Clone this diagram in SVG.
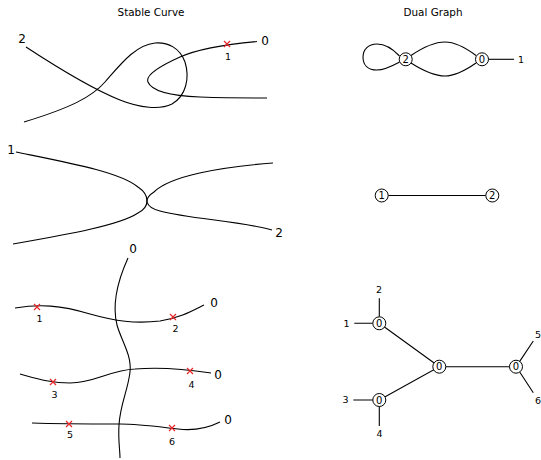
<svg xmlns="http://www.w3.org/2000/svg" width="541" height="460" viewBox="0 0 541 460">
  <style>
    .curve { fill: none; stroke: #000; stroke-width: 1.1; }
    .edge { fill: none; stroke: #000; stroke-width: 1.1; }
    .mark { stroke: #e8262a; stroke-width: 1.2; }
    .node circle { fill: #fff; stroke: #000; stroke-width: 1; }
    text { font-family: "DejaVu Sans", "Liberation Sans", sans-serif; fill: #000; text-anchor: middle; }
    .title { font-size: 10.4px; }
    .big { font-size: 12px; }
    .small { font-size: 9.5px; }
    .nlab { font-size: 10px; }
  </style>
  <defs>
    <path id="x" class="mark" d="M-3,-3 L3,3 M-3,3 L3,-3"/>
  </defs>
  <rect width="541" height="460" fill="#fff"/>

  <text class="title" x="151" y="16">Stable Curve</text>
  <text class="title" x="433" y="16">Dual Graph</text>

  <!-- Stable curve 1: nodal component of genus 2 meeting a rational tail -->
  <g id="curve-top">
    <path class="curve" d="M26,47 C55,66 90,88 120,100 C140,108 160,110 172,104 C186,96 190,78 185,62 C180,48 168,42 155,43 C135,45 120,65 105,82 C92,97 70,108 24,122"/>
    <path class="curve" d="M257,41.5 C235,43.5 200,48 180,57 C160,66 145,75 148,82 C152,92 175,96 200,97 C230,98 255,98 267,98"/>
    <use href="#x" x="227" y="44"/>
    <text class="big" x="22" y="43">2</text>
    <text class="big" x="265" y="45">0</text>
    <text class="small" x="228" y="60">1</text>
  </g>

  <!-- Stable curve 2: two components meeting at one node -->
  <g id="curve-mid">
    <path class="curve" d="M16,152 C70,163 120,172 138,187 C150,195 150,207 138,213 C120,225 70,234 13,244"/>
    <path class="curve" d="M154,192 C143,199 145,207 160,211 C190,219 240,221 272,230"/>
    <path class="curve" d="M273,163 C220,167 170,176 154,192"/>
    <text class="big" x="11" y="154">1</text>
    <text class="big" x="279" y="237">2</text>
  </g>

  <!-- Stable curve 3: a rational spine with three rational branches -->
  <g id="curve-bottom">
    <path class="curve" d="M128,258 C118,280 112,305 117,325 C121,340 132,355 130,372 C128,390 120,405 119,425 C118,440 120,450 120,458"/>
    <path class="curve" d="M15,308 C40,304 60,305 90,314 C115,321 135,324 160,321 C180,318 192,311 204,305"/>
    <path class="curve" d="M20,374 C35,378 50,383 70,383 C95,383 110,370 135,369 C160,367 185,369 211,373"/>
    <path class="curve" d="M32,423 C60,424 90,424 120,424 C140,424 160,427 178,429 C195,431 208,428 220,422"/>
    <use href="#x" x="37" y="307"/>
    <use href="#x" x="173" y="317"/>
    <use href="#x" x="53" y="382"/>
    <use href="#x" x="190" y="371"/>
    <use href="#x" x="69" y="424"/>
    <use href="#x" x="172" y="428"/>
    <text class="big" x="133" y="253">0</text>
    <text class="big" x="214" y="307">0</text>
    <text class="big" x="218" y="379">0</text>
    <text class="big" x="228" y="424">0</text>
    <text class="small" x="39.5" y="322">1</text>
    <text class="small" x="175.5" y="332">2</text>
    <text class="small" x="54.5" y="398">3</text>
    <text class="small" x="191.5" y="388">4</text>
    <text class="small" x="70" y="438">5</text>
    <text class="small" x="172" y="445">6</text>
  </g>

  <!-- Dual graph edges and legs -->
  <g id="edges">
    <path class="edge" d="M399.5,56 C392,48 385,44 377,44 C368,44 363,50 363,57 C363,65 368,70 377,70 C385,70 392,66 399.5,62"/>
    <path class="edge" d="M411,55.5 C422,48 434,42 445,42 C456,42 466,48 476,55.5"/>
    <path class="edge" d="M411,63 C422,70 434,76 445,76 C456,76 466,70 476,63"/>
    <path class="edge" d="M488.5,59.3 L514,59.3"/>
    <path class="edge" d="M388.2,195.5 L485.8,195.5"/>
    <path class="edge" d="M379.3,323.3 L439.3,366.7 L379.3,400 M439.3,366.7 L516,366.7"/>
    <path class="edge" d="M379.3,316.8 L379.3,298.3 M372.8,323.3 L354.3,323.3"/>
    <path class="edge" d="M372.8,400 L353.3,400 M379.3,406.5 L379.3,426"/>
    <path class="edge" d="M519.7,361.4 L533.3,341 M519.7,372 L533.3,392.7"/>
    <text class="small" x="521" y="63">1</text>
    <text class="small" x="379" y="293">2</text>
    <text class="small" x="346.5" y="327">1</text>
    <text class="small" x="345.5" y="403">3</text>
    <text class="small" x="379.5" y="437">4</text>
    <text class="small" x="538" y="338">5</text>
    <text class="small" x="538" y="404">6</text>
  </g>

  <g id="g1-n2" class="node"><circle cx="405.7" cy="59.3" r="6.5"/><text class="nlab" x="405.7" y="62.9">2</text></g>
  <g id="g1-n0" class="node"><circle cx="482" cy="59.3" r="6.5"/><text class="nlab" x="482" y="62.9">0</text></g>
  <g id="g2-n1" class="node"><circle cx="381.7" cy="195.5" r="6.5"/><text class="nlab" x="381.7" y="199.1">1</text></g>
  <g id="g2-n2" class="node"><circle cx="492.3" cy="195.5" r="6.5"/><text class="nlab" x="492.3" y="199.1">2</text></g>
  <g id="g3-a" class="node"><circle cx="379.3" cy="323.3" r="6.5"/><text class="nlab" x="379.3" y="326.9">0</text></g>
  <g id="g3-c" class="node"><circle cx="439.3" cy="366.7" r="6.5"/><text class="nlab" x="439.3" y="370.3">0</text></g>
  <g id="g3-b" class="node"><circle cx="379.3" cy="400" r="6.5"/><text class="nlab" x="379.3" y="403.6">0</text></g>
  <g id="g3-r" class="node"><circle cx="516" cy="366.7" r="6.5"/><text class="nlab" x="516" y="370.3">0</text></g>
</svg>
